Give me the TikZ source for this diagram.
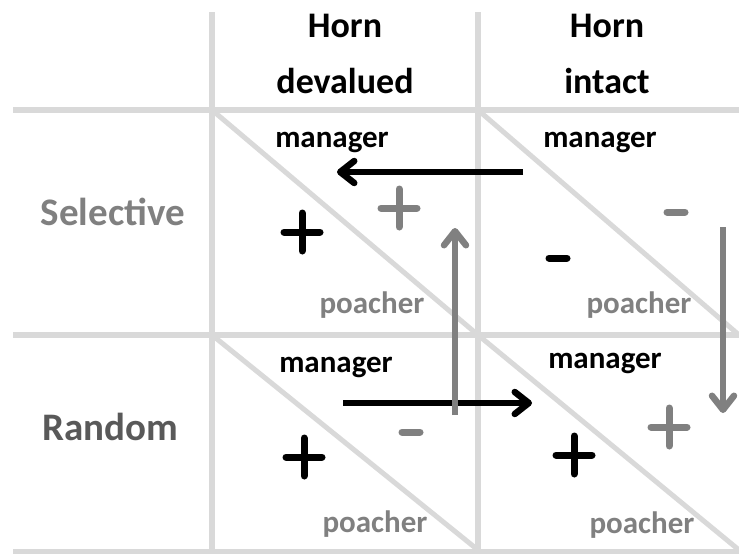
\documentclass[tikz,border=0pt]{standalone}
\usepackage{fontspec}
\setmainfont{Carlito}
\usetikzlibrary{arrows.meta}

\definecolor{gridgray}{HTML}{D9D9D9}
\definecolor{midgray}{HTML}{808080}
\definecolor{rowgray}{HTML}{595959}

\tikzset{
	grid line/.style={gridgray, line width=5.5pt},
	head/.style={font=\bfseries\fontsize{36}{56}\selectfont, align=center},
	side/.style={font=\bfseries\fontsize{39}{46}\selectfont},
	role/.style={font=\bfseries\fontsize{31}{36}\selectfont, anchor=base},
	move/.style={line width=6.5pt, -{Straight Barb[length=14pt, width=22pt, round]}},
	plusmark/.pic={\draw[line width=7pt, line cap=round] (-18,0) -- (18,0) (0,-19) -- (0,19);},
	minusmark/.pic={\draw[line width=7pt, line cap=round] (-9,0) -- (9,0);}
}

\begin{document}
\begin{tikzpicture}[x=1pt, y=-1pt]
		\useasboundingbox (0,0) rectangle (739,554);
		% table lines
		\draw [grid line] (13,110) -- (739,110) (13,335) -- (739,335) (13,552) -- (739,552);
		\draw [grid line] (212,12) -- (212,554) (478,12) -- (478,554);
		\draw [grid line, line width=5pt] (212,110) -- (478,335) (478,110) -- (739,335)
			(212,335) -- (478,550) (478,335) -- (739,550);
		% headings
		\node [head] (devalued) at (345,54) {Horn\\devalued};
		\node [head] (intact) at (607,54) {Horn\\intact};
		\node [side, midgray] (selective) at (113,212) {Selective};
		\node [side, rowgray] (random) at (110,427) {Random};
		% players in each cell
		\node [role] (mgr SD) at (332,147) {manager};
		\node [role] (mgr SI) at (600,147) {manager};
		\node [role] (mgr RD) at (336,372) {manager};
		\node [role] (mgr RI) at (605,368) {manager};
		\node [role, midgray] (pch SD) at (372,313) {poacher};
		\node [role, midgray] (pch SI) at (639,313) {poacher};
		\node [role, midgray] (pch RD) at (375,532) {poacher};
		\node [role, midgray] (pch RI) at (642,533) {poacher};
		% payoffs
		\pic at (302,232) {plusmark};
		\pic [midgray] at (399,208) {plusmark};
		\pic [midgray] at (676,212) {minusmark};
		\pic at (558,258) {minusmark};
		\pic at (304,457) {plusmark};
		\pic [midgray] at (411,432) {minusmark};
		\pic at (574,455) {plusmark};
		\pic [midgray] at (669,427) {plusmark};
		% moves
		\coordinate (SI left) at (523,172);
		\coordinate (SD left) at (337,172);
		\coordinate (RD right) at (343,403);
		\coordinate (RI right) at (532,403);
		\coordinate (RD up) at (455,415);
		\coordinate (SD up) at (455,228);
		\coordinate (SI down) at (723,227);
		\coordinate (RI down) at (723,413);
		\draw [move] (SI left) -- (SD left);
		\draw [move] (RD right) -- (RI right);
		\draw [move, midgray] (RD up) -- (SD up);
		\draw [move, midgray] (SI down) -- (RI down);
	\end{tikzpicture}
\end{document}
